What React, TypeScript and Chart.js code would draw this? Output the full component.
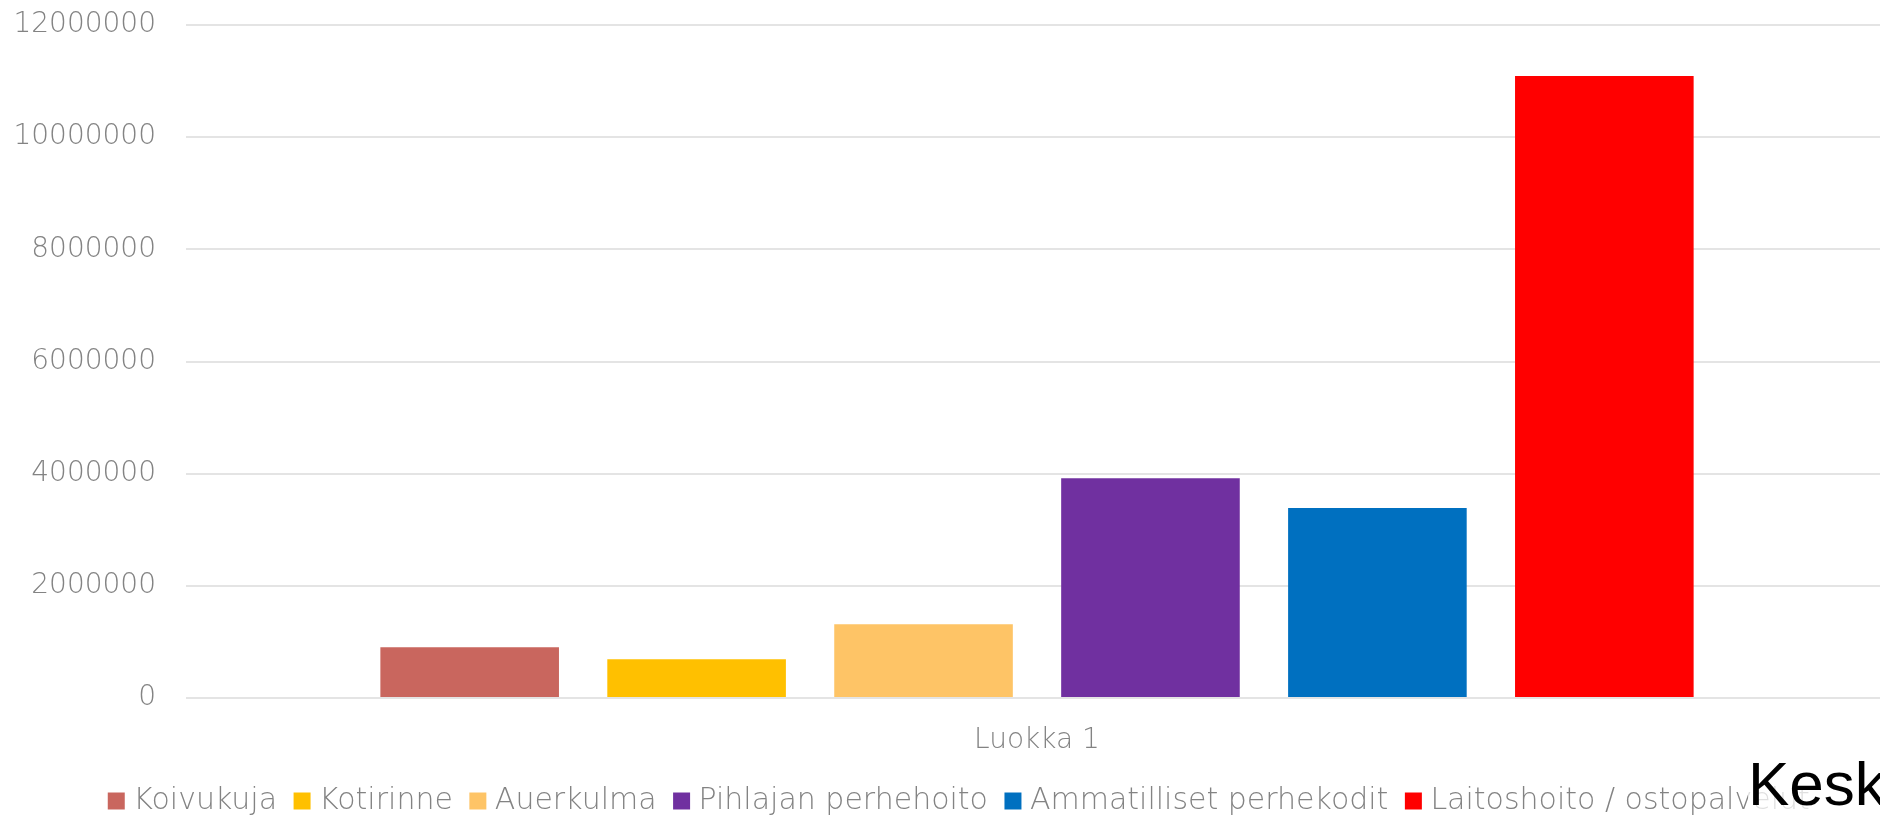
import React, { useEffect, useRef } from "react";
import { Chart, registerables } from "chart.js";

Chart.register(...registerables);

const categories = ["Luokka 1"];
const seriesNames = [
  "Koivukuja",
  "Kotirinne",
  "Auerkulma",
  "Pihlajan perhehoito",
  "Ammatilliset perhekodit",
  "Laitoshoito / ostopalvelut",
];
const koivukuja = [906000];
const kotirinne = [690000];
const auerkulma = [1317000];
const pihlajan = [3920000];
const ammatilliset = [3386000];
const laitoshoito = [11090000];
const seriesValues = [koivukuja, kotirinne, auerkulma, pihlajan, ammatilliset, laitoshoito];
const seriesColors = ["#C9665E", "#FFC000", "#FEC466", "#7030A0", "#0070C0", "#FF0000"];
const yMin = 0;
const yMax = 12000000;
const yStep = 2000000;

const FONT = "'DejaVu Sans', sans-serif";
const GRAY = "#838383";

const legendShift = {
  id: "legendShift",
  afterLayout(chart: any) {
    const lg = chart.legend;
    if (lg) {
      lg.left += 18;
      lg.right += 18;
    }
  },
};

export default function App() {
  const ref = useRef<HTMLCanvasElement | null>(null);

  useEffect(() => {
    if (!ref.current) return;
    const chart = new Chart(ref.current, {
      type: "bar",
      data: {
        labels: categories,
        datasets: seriesNames.map((name, i) => ({
          label: name,
          data: seriesValues[i],
          backgroundColor: seriesColors[i],
          borderWidth: 0,
          pointStyle: "rect",
          categoryPercentage: 0.8,
          barPercentage: 0.787,
        })),
      },
      plugins: [legendShift],
      options: {
        animation: false,
        responsive: false,
        layout: { padding: 0 },
        plugins: {
          tooltip: { enabled: false },
          legend: {
            position: "bottom",
            labels: {
              usePointStyle: true,
              pointStyle: "rect",
              boxWidth: 4,
              boxHeight: 17,
              padding: 23,
              color: GRAY,
              font: { family: FONT, size: 30, weight: "200" },
            },
          },
        },
        scales: {
          x: {
            grid: { display: false, drawTicks: false },
            border: { display: false },
            ticks: {
              color: GRAY,
              padding: 26,
              font: { family: FONT, size: 28, weight: "200" },
            },
            afterFit: (s: any) => {
              s.height = 65;
            },
          },
          y: {
            min: yMin,
            max: yMax,
            grid: { color: "#E4E4E4", lineWidth: 2, drawTicks: false },
            border: { display: false },
            ticks: {
              stepSize: yStep,
              padding: 30,
              color: GRAY,
              font: { family: FONT, size: 28, weight: "200" },
              callback: (v: any) => String(v),
            },
            afterFit: (s: any) => {
              s.width = 186;
              s.paddingTop = 25;
              s.paddingBottom = 0;
            },
          },
        },
      },
    });
    return () => chart.destroy();
  }, []);

  return (
    <div
      style={{
        position: "absolute",
        left: 0,
        top: 0,
        width: 1880,
        height: 819,
        overflow: "hidden",
        background: "#fff",
      }}
    >
      <canvas ref={ref} width={1888} height={826} style={{ display: "block" }} />
      <div
        style={{
          position: "absolute",
          left: 1748,
          top: 748,
          height: 71,
          width: 140,
          background: "rgba(255,255,255,0.75)",
          fontFamily: "'Liberation Sans', Arial, sans-serif",
          fontSize: 62,
          lineHeight: "71px",
          color: "#000",
          whiteSpace: "nowrap",
        }}
      >
        Kesk
      </div>
    </div>
  );
}
